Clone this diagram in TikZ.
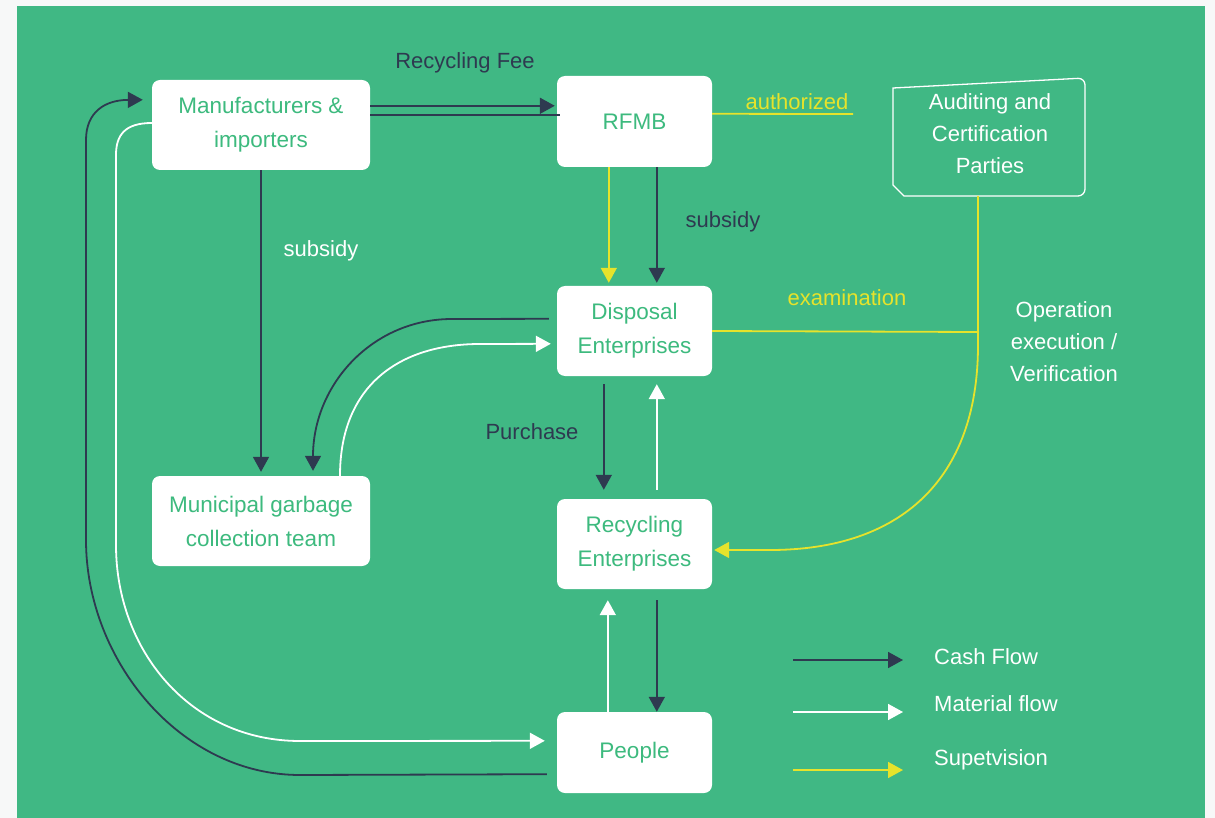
\documentclass[tikz,border=0pt]{standalone}
\usepackage{fontspec}
\setmainfont{Liberation Sans}
\usetikzlibrary{arrows.meta,calc}
\definecolor{bggreen}{HTML}{40B884}
\definecolor{navy}{HTML}{2E3A50}
\definecolor{yel}{HTML}{E6E32B}
\definecolor{txtgreen}{HTML}{3DBA7E}
\definecolor{outerbg}{HTML}{F7F8F8}
\begin{document}
\begin{tikzpicture}[x=1pt,y=-1pt,
  box/.style={fill=white, rounded corners=8pt, text=txtgreen, align=center, inner sep=0pt, font=\fontsize{22.5}{34}\selectfont},
  lbl/.style={font=\fontsize{22}{32}\selectfont, inner sep=0pt, align=center},
  tip/.style={-{Triangle[length=15pt,width=16pt]}},
  cash/.style={draw=navy, line width=1.8pt},
  mat/.style={draw=white, line width=1.8pt},
  sup/.style={draw=yel, line width=1.8pt},
]
\useasboundingbox (0,0) rectangle (1215,818);
\fill[outerbg] (0,0) rectangle (1215,818);
\fill[bggreen] (17,6) rectangle (1205,818);

% boxes
\node[box, minimum width=218pt, minimum height=90pt] (mfr) at (261,125) {Manufacturers \&\\importers};
\node[box, minimum width=155pt, minimum height=91pt] (rfmb) at (634.5,121.5) {RFMB};
\node[box, minimum width=155pt, minimum height=90pt] (disp) at (634.5,331) {Disposal\\Enterprises};
\node[box, minimum width=155pt, minimum height=90pt] (recy) at (634.5,544) {Recycling\\Enterprises};
\node[box, minimum width=218pt, minimum height=90pt] (muni) at (261,521) {Municipal garbage\\collection team};
\node[box, minimum width=155pt, minimum height=81pt] (people) at (634.5,752.5) {People};

% auditing box
\node[lbl, text=white] (aud) at (990,134) {Auditing and\\Certification\\Parties};
\draw[white, line width=1.3pt] (893,88) [rounded corners=7pt] -- (1085,78) -- (1085,196) [sharp corners] -- (904,196) -- (893,185) -- cycle;
\coordinate (audb) at (978,196);
\coordinate (junc) at (978,332);

% labels
\node[lbl, text=navy] (fee) at (465,63) {Recycling Fee};
\node[lbl, text=yel] (auth) at (797,102) {authorized};
\coordinate (authend) at (853,114);
\node[lbl, text=navy] (sub1) at (723,222) {subsidy};
\node[lbl, text=white] (sub2) at (321,251) {subsidy};
\node[lbl, text=yel] (exam) at (847,298) {examination};
\node[lbl, text=white] (oper) at (1064,342) {Operation\\execution /\\Verification};
\node[lbl, text=navy] (purch) at (532,432) {Purchase};

% Recycling fee double line
\draw[cash, tip] ($(mfr.north east)+(0,26)$) -- ($(rfmb.north west)+(-2,30)$);
\draw[cash] ($(mfr.north east)+(0,35)$) -- ($(rfmb.north west)+(3,39)$);

% authorized
\draw[sup] ($(rfmb.north east)+(0,38)$) -- (authend);

% RFMB -> Disposal
\draw[sup, tip] ($(rfmb.south west)+(52,0)$) -- ($(disp.north west)+(52,-3)$);
\draw[cash, tip] ($(rfmb.south west)+(100,0)$) -- ($(disp.north west)+(100,-3)$);

% Manufacturers -> Municipal
\draw[cash, tip] (mfr.south) -- ($(muni.north)+(0,-4)$);

% Disposal <-> Municipal
\draw[cash, tip] ($(disp.north west)+(-8,33)$) -- (452,319) .. controls (372,319) and (313,385) .. ($(muni.north)+(52,-5)$);
\draw[mat, tip] ($(muni.north)+(79,0)$) .. controls (340,385) and (400,344) .. (480,344) -- ($(disp.north west)+(-6,58)$);

% Disposal <-> Recycling
\draw[cash, tip] ($(disp.south west)+(47,8)$) -- ($(recy.north west)+(47,-9)$);
\draw[mat, tip] ($(recy.north west)+(100,-9)$) -- ($(disp.south west)+(100,8)$);

% Recycling <-> People
\draw[cash, tip] ($(recy.south west)+(100,11)$) -- ($(people.north west)+(100,0)$);
\draw[mat, tip] ($(people.north west)+(51,0)$) -- ($(recy.south west)+(51,11)$);

% supervision: auditing -> recycling, examination
\draw[sup, tip] (audb) -- (978,345) .. controls (978,480) and (900,550) .. (770,550) -- ($(recy.east)+(2,6)$);
\draw[sup] (disp.east) -- (junc);

% big loops
\draw[cash, tip] ($(people.south west)+(-10,-19)$) -- (300,775) .. controls (180,775) and (86,660) .. (86,540) -- (86,140) .. controls (86,112) and (105,100) .. ($(mfr.north west)+(-9,20)$);
\draw[mat, tip] ($(mfr.west)+(0,-2)$) .. controls (125,123) and (116,135) .. (116,155) -- (116,545) .. controls (116,650) and (190,741) .. (300,741) -- ($(people.north west)+(-12,29)$);

% legend
\coordinate (l1s) at (793,660); \coordinate (l1e) at (903,660);
\coordinate (l2s) at (793,712); \coordinate (l2e) at (903,712);
\coordinate (l3s) at (793,770); \coordinate (l3e) at (903,770);
\draw[cash, tip] (l1s) -- (l1e);
\draw[mat, tip] (l2s) -- (l2e);
\draw[sup, tip] (l3s) -- (l3e);
\node[lbl, text=white, anchor=west] (lg1) at (934,657) {Cash Flow};
\node[lbl, text=white, anchor=west] (lg2) at (934,704) {Material flow};
\node[lbl, text=white, anchor=west] (lg3) at (934,760) {Supetvision};
\end{tikzpicture}
\end{document}
